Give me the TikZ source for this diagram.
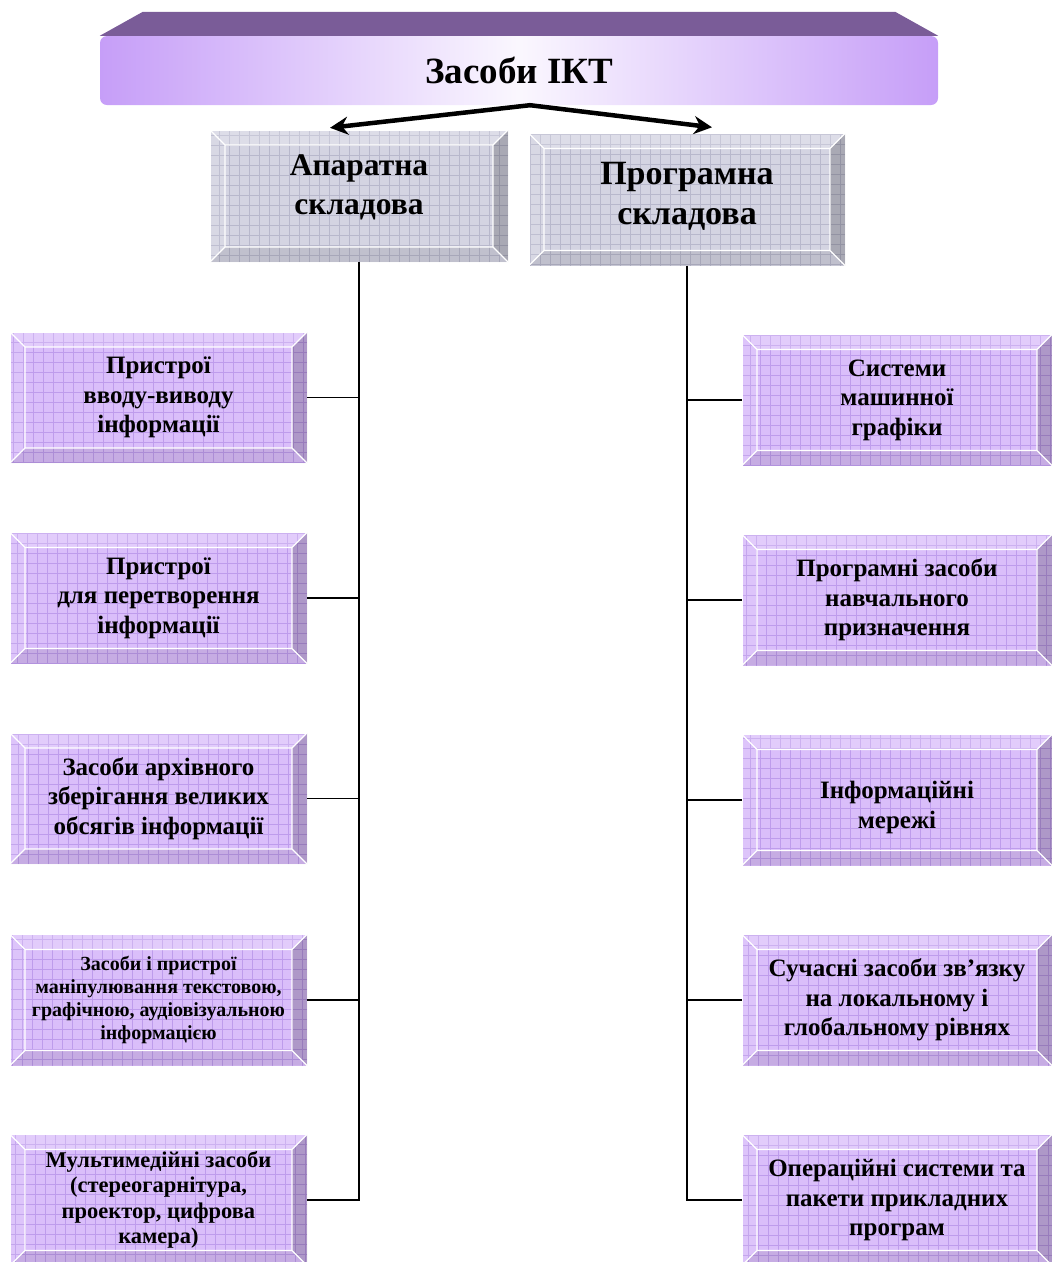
\documentclass[tikz,border=0pt]{standalone}
\usepackage{fontspec}
\setmainfont{Liberation Serif}
\usetikzlibrary{arrows.meta,calc}

\definecolor{lilac}{RGB}{218,190,250}
\definecolor{lilacgrid}{RGB}{190,156,236}
\definecolor{greyface}{RGB}{212,212,226}
\definecolor{greygrid}{RGB}{184,184,204}
\definecolor{bannertop}{RGB}{122,92,152}
\definecolor{bannerside}{RGB}{198,158,248}

\tikzset{
  bevel/.style={rectangle, inner sep=0pt, align=center, font=\bfseries,
    path picture={
      \draw[#1, line width=0.8pt, step=10pt]
        (path picture bounding box.south west) grid (path picture bounding box.north east);
      \coordinate (pA) at (path picture bounding box.north west);
      \coordinate (pB) at (path picture bounding box.north east);
      \coordinate (pC) at (path picture bounding box.south east);
      \coordinate (pD) at (path picture bounding box.south west);
      \coordinate (qA) at ($(pA)+(15pt,-15pt)$);
      \coordinate (qB) at ($(pB)+(-15pt,-15pt)$);
      \coordinate (qC) at ($(pC)+(-15pt,15pt)$);
      \coordinate (qD) at ($(pD)+(15pt,15pt)$);
      \fill[white, opacity=.22] (pA) -- (pB) -- (qB) -- (qA) -- cycle;
      \fill[white, opacity=.10] (pA) -- (qA) -- (qD) -- (pD) -- cycle;
      \fill[black, opacity=.20] (pB) -- (qB) -- (qC) -- (pC) -- cycle;
      \fill[black, opacity=.09] (pD) -- (qD) -- (qC) -- (pC) -- cycle;
      \draw[white, line width=1.3pt] (qA) -- (qB) -- (qC) -- (qD) -- cycle
        (pA) -- (qA) (pB) -- (qB) (pC) -- (qC) (pD) -- (qD);
      \draw[white, line width=1.3pt] (pD) -- (pA) -- (pB);
    }},
  partbox/.style={bevel=greygrid, fill=greyface, minimum height=132pt},
  hwbox/.style={bevel=lilacgrid, fill=lilac, minimum width=297pt, minimum height=131pt,
    font=\bfseries\fontsize{25}{29.5}\selectfont},
  swbox/.style={hwbox, minimum width=310pt},
  banner/.style={rectangle, rounded corners=7pt, minimum width=838pt, minimum height=69pt,
    left color=bannerside, right color=bannerside, middle color=bannerside!8,
    font=\bfseries\fontsize{37}{40}\selectfont},
  bigarrow/.style={line width=4.5pt, -{Stealth[length=18pt, width=18pt]}},
  trunk/.style={line width=1.8pt}
}

\begin{document}
\begin{tikzpicture}[x=1pt, y=-1pt]
\useasboundingbox (0,0) rectangle (1052,1262);

% title
\node[banner] (ikt) at (519,70.5) {Засоби ІКТ};
\fill[bannertop] ($(ikt.north west)+(43pt,24pt)$) -- ($(ikt.north east)+(-43pt,24pt)$)
  -- (ikt.north east) -- (ikt.north west) -- cycle;

% two parts
\node[partbox, minimum width=298pt, text depth=22pt, font=\bfseries\fontsize{31.5}{39}\selectfont] (hw) at (359,196) {Апаратна\\складова};
\node[partbox, minimum width=316pt, text depth=13pt, font=\bfseries\fontsize{34}{40}\selectfont] (sw) at (687,199.5) {Програмна\\складова};

\draw[bigarrow] ($(ikt.south)+(11pt,0pt)$) -- ($(hw.north)+(-29pt,2pt)$);
\draw[bigarrow] ($(ikt.south)+(11pt,0pt)$) -- ($(sw.north)+(25pt,6pt)$);

% hardware
\node[hwbox] (h1) at (158.5,397.5) {Пристрої\\вводу-виводу\\інформації};
\node[hwbox] (h2) at (158.5,598) {Пристрої\\для перетворення\\інформації};
\node[hwbox] (h3) at (158.5,798.5) {Засоби архівного\\зберігання великих\\обсягів інформації};
\node[hwbox, font=\bfseries\fontsize{20}{23}\selectfont] (h4) at (158.5,1000) {Засоби і пристрої\\маніпулювання текстовою,\\графічною, аудіовізуальною\\інформацією};
\node[hwbox, font=\bfseries\fontsize{22.5}{25.5}\selectfont] (h5) at (158.5,1200) {Мультимедійні засоби\\(стереогарнітура,\\проектор, цифрова\\камера)};

% software
\node[swbox] (s1) at (897,400) {Системи\\машинної\\графіки};
\node[swbox] (s2) at (897,600) {Програмні засоби\\навчального\\призначення};
\node[swbox, text height=62pt] (s3) at (897,800) {Інформаційні\\мережі};
\node[swbox] (s4) at (897,1000) {Сучасні засоби зв’язку\\на локальному і\\глобальному рівнях};
\node[swbox] (s5) at (897,1200) {Операційні системи та\\пакети прикладних\\програм};

\draw[trunk] (hw.south) |- (h5.east);
\foreach \n in {h1,h2,h3,h4}
  \draw[trunk] (\n.east) -- (\n.east -| hw.south);
\draw[trunk] (sw.south) |- (s5.west);
\foreach \n in {s1,s2,s3,s4}
  \draw[trunk] (\n.west) -- (\n.west -| sw.south);
\end{tikzpicture}
\end{document}
